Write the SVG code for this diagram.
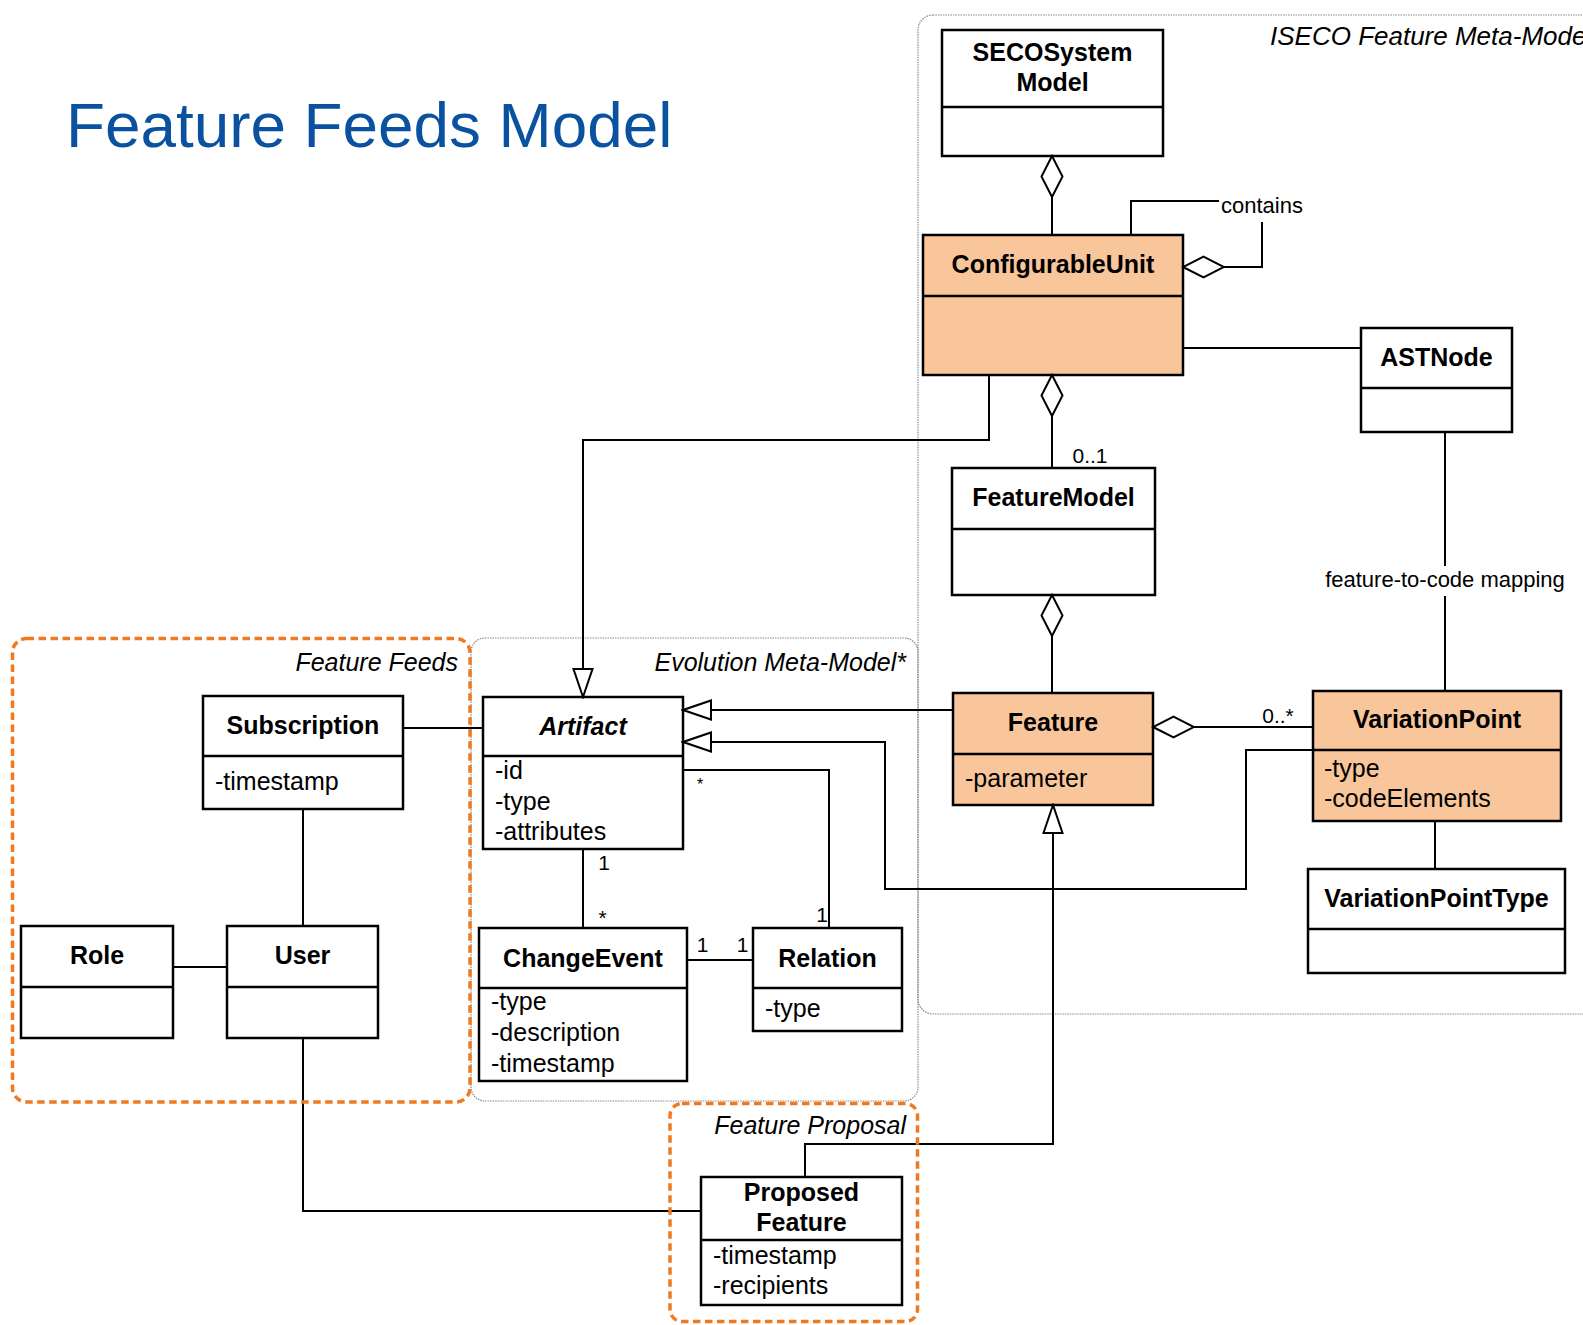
<svg xmlns="http://www.w3.org/2000/svg" width="1583" height="1325" viewBox="0 0 1583 1325">
  <style>
    .box { fill: #ffffff; stroke: #000000; stroke-width: 2.5; }
    .hot { fill: #F8C69A; }
    .div { stroke: #000000; stroke-width: 2.5; }
    .name { font-family: "Liberation Sans", Arial, sans-serif; font-weight: bold; font-size: 25px; text-anchor: middle; fill: #000; }
    .attr { font-family: "Liberation Sans", Arial, sans-serif; font-size: 25px; fill: #000; }
    .lbl { font-family: "Liberation Sans", Arial, sans-serif; font-size: 22px; fill: #000; }
    .mult { font-family: "Liberation Sans", Arial, sans-serif; font-size: 21px; fill: #000; text-anchor: middle; }
    .pkg { font-family: "Liberation Sans", Arial, sans-serif; font-style: italic; font-size: 25px; fill: #000; }
    .pkgline { fill: none; stroke: #8a8a8a; stroke-width: 1.2; stroke-dasharray: 1.5 1; }
    .orange { fill: none; stroke: #F07A22; stroke-width: 3.5; stroke-dasharray: 7.5 4.5; }
    .conn { fill: none; stroke: #000000; stroke-width: 2; }
    .gen { marker-end: url(#triangle); }
    .agg { marker-end: url(#diamond); }
  </style>
  <defs>
    <!-- hollow diamond for aggregation, tip at the line end -->
    <marker id="diamond" markerUnits="userSpaceOnUse" viewBox="-43 -12 45 24" refX="0" refY="0" markerWidth="45" markerHeight="24" orient="auto">
      <path d="M0,0 L-20.5,-10.5 L-41,0 L-20.5,10.5 Z" fill="#ffffff" stroke="#000000" stroke-width="2"/>
    </marker>
    <!-- hollow triangle for generalization -->
    <marker id="triangle" markerUnits="userSpaceOnUse" viewBox="-31 -11 33 22" refX="0" refY="0" markerWidth="33" markerHeight="22" orient="auto">
      <path d="M0,0 L-28,-9.5 L-28,9.5 Z" fill="#ffffff" stroke="#000000" stroke-width="2"/>
    </marker>
  </defs>

  <rect width="1583" height="1325" fill="#ffffff"/>

  <!-- title -->
  <text x="66" y="147" font-family="'Liberation Sans', Arial, sans-serif" font-size="63.8" fill="#0A52A0">Feature Feeds Model</text>

  <!-- packages -->
  <g id="pkg-iseco">
    <rect class="pkgline" x="918" y="15" width="720" height="999" rx="15"/>
    <text class="pkg" x="1270" y="45" style="font-size:26px">ISECO Feature Meta-Model</text>
  </g>
  <g id="pkg-evolution">
    <rect class="pkgline" x="471" y="638" width="447" height="463" rx="14"/>
    <text class="pkg" x="906" y="671" text-anchor="end">Evolution Meta-Model*</text>
  </g>

  <!-- classes -->
  <g id="SECOSystemModel">
    <rect class="box" x="942" y="30" width="221" height="126"/>
    <line class="div" x1="942" y1="107" x2="1163" y2="107"/>
    <text class="name" x="1052.5" y="61">SECOSystem</text>
    <text class="name" x="1052.5" y="91">Model</text>
  </g>
  <g id="ConfigurableUnit">
    <rect class="box hot" x="923" y="235" width="260" height="140"/>
    <line class="div" x1="923" y1="296" x2="1183" y2="296"/>
    <text class="name" x="1053" y="273">ConfigurableUnit</text>
  </g>
  <g id="ASTNode">
    <rect class="box" x="1361" y="328" width="151" height="104"/>
    <line class="div" x1="1361" y1="388" x2="1512" y2="388"/>
    <text class="name" x="1436.5" y="366">ASTNode</text>
  </g>
  <g id="FeatureModel">
    <rect class="box" x="952" y="468" width="203" height="127"/>
    <line class="div" x1="952" y1="529" x2="1155" y2="529"/>
    <text class="name" x="1053.5" y="506">FeatureModel</text>
  </g>
  <g id="Feature">
    <rect class="box hot" x="953" y="693" width="200" height="112"/>
    <line class="div" x1="953" y1="754" x2="1153" y2="754"/>
    <text class="name" x="1053" y="731">Feature</text>
    <text class="attr" x="965" y="787">-parameter</text>
  </g>
  <g id="VariationPoint">
    <rect class="box hot" x="1313" y="691" width="248" height="130"/>
    <line class="div" x1="1313" y1="750" x2="1561" y2="750"/>
    <text class="name" x="1437" y="728">VariationPoint</text>
    <text class="attr" x="1324" y="777">-type</text>
    <text class="attr" x="1324" y="807">-codeElements</text>
  </g>
  <g id="VariationPointType">
    <rect class="box" x="1308" y="869" width="257" height="104"/>
    <line class="div" x1="1308" y1="929" x2="1565" y2="929"/>
    <text class="name" x="1436.5" y="907">VariationPointType</text>
  </g>
  <g id="Artifact">
    <rect class="box" x="483" y="697" width="200" height="152"/>
    <line class="div" x1="483" y1="756" x2="683" y2="756"/>
    <text class="name" x="583" y="735" style="font-style:italic">Artifact</text>
    <text class="attr" x="495" y="779">-id</text>
    <text class="attr" x="495" y="810">-type</text>
    <text class="attr" x="495" y="840">-attributes</text>
  </g>
  <g id="ChangeEvent">
    <rect class="box" x="479" y="928" width="208" height="153"/>
    <line class="div" x1="479" y1="988" x2="687" y2="988"/>
    <text class="name" x="583" y="967">ChangeEvent</text>
    <text class="attr" x="491" y="1010">-type</text>
    <text class="attr" x="491" y="1041">-description</text>
    <text class="attr" x="491" y="1072">-timestamp</text>
  </g>
  <g id="Relation">
    <rect class="box" x="753" y="928" width="149" height="103"/>
    <line class="div" x1="753" y1="988" x2="902" y2="988"/>
    <text class="name" x="827.5" y="967">Relation</text>
    <text class="attr" x="765" y="1017">-type</text>
  </g>
  <g id="Subscription">
    <rect class="box" x="203" y="696" width="200" height="113"/>
    <line class="div" x1="203" y1="756" x2="403" y2="756"/>
    <text class="name" x="303" y="734">Subscription</text>
    <text class="attr" x="215" y="790">-timestamp</text>
  </g>
  <g id="Role">
    <rect class="box" x="21" y="926" width="152" height="112"/>
    <line class="div" x1="21" y1="987" x2="173" y2="987"/>
    <text class="name" x="97" y="964">Role</text>
  </g>
  <g id="User">
    <rect class="box" x="227" y="926" width="151" height="112"/>
    <line class="div" x1="227" y1="987" x2="378" y2="987"/>
    <text class="name" x="302.5" y="964">User</text>
  </g>
  <g id="ProposedFeature">
    <rect class="box" x="701" y="1177" width="201" height="128"/>
    <line class="div" x1="701" y1="1240" x2="902" y2="1240"/>
    <text class="name" x="801.5" y="1201">Proposed</text>
    <text class="name" x="801.5" y="1231">Feature</text>
    <text class="attr" x="713" y="1264">-timestamp</text>
    <text class="attr" x="713" y="1294">-recipients</text>
  </g>

  <!-- connectors -->
  <g id="connectors">
    <!-- aggregations -->
    <path class="conn agg" d="M1052,235 V156"/>
    <path class="conn agg" d="M1052,468 V375"/>
    <path class="conn agg" d="M1052,693 V595"/>
    <path class="conn" d="M1131,235 V201 H1219"/>
    <path class="conn agg" d="M1262,222 V267 H1183"/>
    <path class="conn agg" d="M1313,727 H1153"/>
    <!-- plain associations -->
    <path class="conn" d="M1183,348 H1361"/>
    <path class="conn" d="M1445,432 V566"/>
    <path class="conn" d="M1445,596 V691"/>
    <path class="conn" d="M1435,821 V869"/>
    <path class="conn" d="M403,728 H483"/>
    <path class="conn" d="M303,809 V926"/>
    <path class="conn" d="M173,967 H227"/>
    <path class="conn" d="M303,1038 V1211 H701"/>
    <path class="conn" d="M583,849 V928"/>
    <path class="conn" d="M687,960 H753"/>
    <path class="conn" d="M683,770 H829 V928"/>
    <!-- generalizations -->
    <path class="conn gen" d="M953,710 H683"/>
    <path class="conn gen" d="M1313,750 H1246 V889 H885 V742 H683"/>
    <path class="conn gen" d="M805,1177 V1144 H1053 V805"/>
    <path class="conn gen" d="M989,375 V440 H583 V697"/>

    <!-- association labels -->
    <text class="lbl" x="1221" y="213">contains</text>
    <text class="lbl" x="1445" y="587" text-anchor="middle">feature-to-code mapping</text>
    <text class="mult" x="1090" y="463">0..1</text>
    <text class="mult" x="1278" y="723">0..*</text>
    <text class="mult" x="604" y="870">1</text>
    <text class="mult" x="602.5" y="925">*</text>
    <text class="mult" x="700" y="790" style="font-size:16px">*</text>
    <text class="mult" x="822" y="922">1</text>
    <text class="mult" x="702.5" y="952">1</text>
    <text class="mult" x="742.5" y="952">1</text>
  </g>

  <!-- highlighted groupings -->
  <g id="grp-feature-feeds">
    <rect class="orange" x="12.5" y="638.5" width="457.5" height="463.5" rx="14"/>
    <text class="pkg" x="458" y="671" text-anchor="end">Feature Feeds</text>
  </g>
  <g id="grp-feature-proposal">
    <rect class="orange" x="670" y="1103.5" width="247.5" height="218" rx="12"/>
    <text class="pkg" x="906" y="1134" text-anchor="end">Feature Proposal</text>
  </g>
</svg>
